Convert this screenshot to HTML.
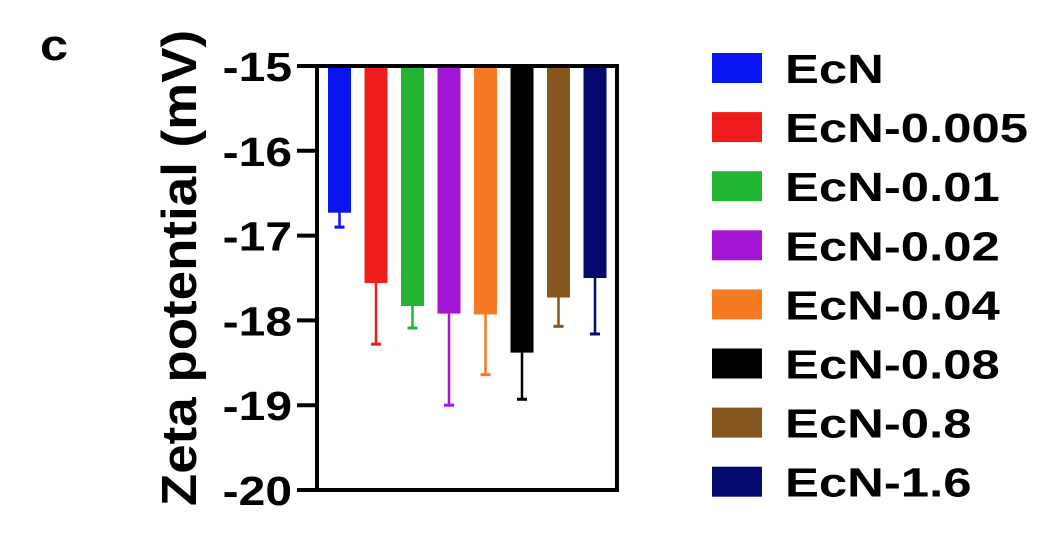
<!DOCTYPE html>
<html><head><meta charset="utf-8"><style>
html,body{margin:0;padding:0;background:#fff;}
svg{display:block;font-family:"Liberation Sans",Arial,sans-serif;font-weight:bold;}
</style></head><body>
<svg id="chart" width="1050" height="534" viewBox="0 0 1050 534" xmlns="http://www.w3.org/2000/svg">
<text transform="translate(40,60) scale(1.15,1)" font-size="44">c</text>
<text transform="translate(196,268) rotate(-90) scale(1.08,1)" text-anchor="middle" font-size="49">Zeta potential (mV)</text>
<g id="bars"></g><g id="axes"></g><g id="legend"></g>
</svg>
<script>
const categories=["EcN","EcN-0.005","EcN-0.01","EcN-0.02","EcN-0.04","EcN-0.08","EcN-0.8","EcN-1.6"];
const values=[-16.73,-17.56,-17.83,-17.92,-17.93,-18.38,-17.73,-17.5];
const errors=[0.17,0.72,0.26,1.08,0.71,0.55,0.34,0.66];
const colors=["#0a14f0","#ee1c1c","#22b532","#a316d6","#f57a22","#000000","#86561f","#040a6e"];
const yTicks=[-15,-16,-17,-18,-19,-20];
const NS="http://www.w3.org/2000/svg";
const top0=66,bot=490,left=317,right=617;
function y(v){return top0+(-15-v)/(5)*(bot-top0);}
function xBar(i){return 328+i*36.5;}
const bw=23;
function mk(t,a,p){const e=document.createElementNS(NS,t);for(const k in a)e.setAttribute(k,a[k]);p.appendChild(e);return e;}
const bars=document.getElementById('bars'),axes=document.getElementById('axes'),leg=document.getElementById('legend');
categories.forEach((c,i)=>{
 const x=xBar(i),yb=y(values[i]),ye=y(values[i]-errors[i]);
 const r=mk('rect',{x:x,y:top0,width:bw,height:yb-top0,fill:colors[i]},bars);
 
 
 const l=mk('line',{x1:x+bw/2,x2:x+bw/2,y1:yb,y2:ye,stroke:colors[i],'stroke-width':2.5},bars);
 
 
 const cap=mk('line',{x1:x+bw/2-5,x2:x+bw/2+5,y1:ye,y2:ye,stroke:colors[i],'stroke-width':3},bars);
 
 
 const ly=68+i*59.1;
 const sw=mk('rect',{x:712,y:ly-15,width:50,height:30,fill:colors[i]},leg);
 
 
 const t=mk('text',{transform:`translate(785,${ly+15}) scale(1.24,1)`,'font-size':41},leg);t.textContent=c;
 
 
});
const frame=mk('path',{d:`M${left} ${top0} L${right} ${top0} L${right} ${bot} L${left} ${bot} Z`,fill:'none',stroke:'#000','stroke-width':4},axes);


yTicks.forEach(v=>{
 const tk=mk('line',{x1:297,x2:left,y1:y(v),y2:y(v),stroke:'#000','stroke-width':4},axes);
 
 
 const t=mk('text',{transform:`translate(292,${y(v)+15}) scale(1.17,1)`,'text-anchor':'end','font-size':41},axes);t.textContent=v;
 
 
});
</script>
</body></html>
